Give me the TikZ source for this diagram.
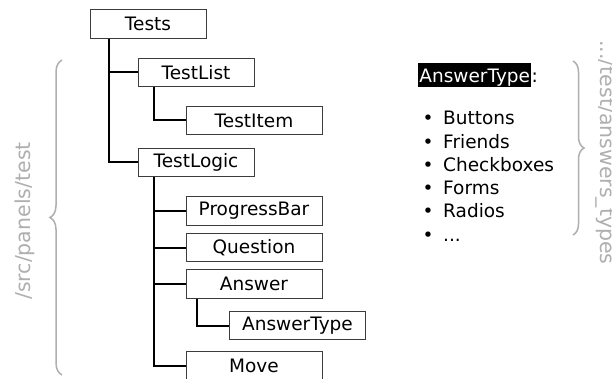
\documentclass[tikz,border=0pt]{standalone}
\usepackage{fontspec}
\setmainfont{DejaVu Sans}
\usetikzlibrary{decorations.pathreplacing}

\definecolor{boxline}{RGB}{60,60,60}
\definecolor{pathgray}{RGB}{175,175,175}

\tikzset{
	comp/.style={draw=boxline, line width=1pt, minimum height=28.5pt, inner sep=0pt, font=\fontsize{18.5}{22}\selectfont},
	wide/.style={comp, minimum width=116pt},
	wider/.style={comp, minimum width=136pt},
	link/.style={black, line width=2pt},
	folder/.style={pathgray, line width=1.5pt, decorate, decoration={brace, amplitude=12pt}},
	pathlabel/.style={pathgray, anchor=base, inner sep=0pt, font=\fontsize{20.5}{24}\selectfont},
	item/.style={anchor=base west, inner sep=0pt, font=\fontsize{18.5}{22}\selectfont}
}

\begin{document}
\begin{tikzpicture}[x=1pt, y=-1pt]
		\useasboundingbox (0,0) rectangle (612,379);
		\fill[white] (0,0) rectangle (612,379);

		% Tree of components
		\node[wide] (Tests) at (148,24) {Tests};
		\node[wide] (TestList) at (196,72.5) {TestList};
		\node[wider] (TestItem) at (254,120.5) {TestItem};
		\node[wide] (TestLogic) at (196,162.5) {TestLogic};
		\draw[link] ([xshift=19pt]Tests.south west) |- (TestList.west);
		\draw[link] ([xshift=19pt]Tests.south west) |- (TestLogic.west);
		\draw[link] ([xshift=16pt]TestList.south west) |- (TestItem.west);

		\node[wider] (ProgressBar) at (254,211) {ProgressBar};
		\node[wider] (Question) at (254,247.5) {Question};
		\node[wider] (Answer) at (254,284) {Answer};
		\node[wider] (AnswerType) at (297.5,325.5) {AnswerType};
		\node[wider] (Move) at (254,366) {Move};
		\draw[link] ([xshift=16pt]TestLogic.south west) |- (ProgressBar.west);
		\draw[link] ([xshift=16pt]TestLogic.south west) |- (Question.west);
		\draw[link] ([xshift=16pt]TestLogic.south west) |- (Answer.west);
		\draw[link] ([xshift=16pt]TestLogic.south west) |- (Move.west);
		\draw[link] ([xshift=11pt]Answer.south west) |- (AnswerType.west);

		% Folder of the tree
		\coordinate (SrcBottom) at (62,375);
		\coordinate (SrcTop) at (62,60);
		\draw[folder] (SrcBottom) -- (SrcTop);
		\node[pathlabel, rotate=90] (SrcPath) at (30,221) {/src/panels/test};

		% Answer types
		\node[fill=black, text=white, anchor=base west, inner xsep=1.25pt, inner ysep=0pt, text height=20pt, text depth=4pt, font=\fontsize{18.5}{22}\selectfont] (TypeTitle) at (418,83) {AnswerType};
		\node[item] (TypeColon) at (TypeTitle.base east) {:};

		\node[item] (Buttons) at (422.5,125) {\makebox[20.5pt][l]{•}Buttons};
		\node[item] (Friends) at (422.5,148.2) {\makebox[20.5pt][l]{•}Friends};
		\node[item] (Checkboxes) at (422.5,171.4) {\makebox[20.5pt][l]{•}Checkboxes};
		\node[item] (Forms) at (422.5,194.6) {\makebox[20.5pt][l]{•}Forms};
		\node[item] (Radios) at (422.5,217.8) {\makebox[20.5pt][l]{•}Radios};
		\node[item] (More) at (422.5,241) {\makebox[20.5pt][l]{•}...};

		% Folder of the answer types
		\coordinate (TypesTop) at (573,61);
		\coordinate (TypesBottom) at (573,235);
		\draw[folder, decoration={amplitude=11pt}] (TypesTop) -- (TypesBottom);
		\node[pathlabel, rotate=-90] (TypesPath) at (600,152.5) {.../test/answers\_types};
\end{tikzpicture}
\end{document}
